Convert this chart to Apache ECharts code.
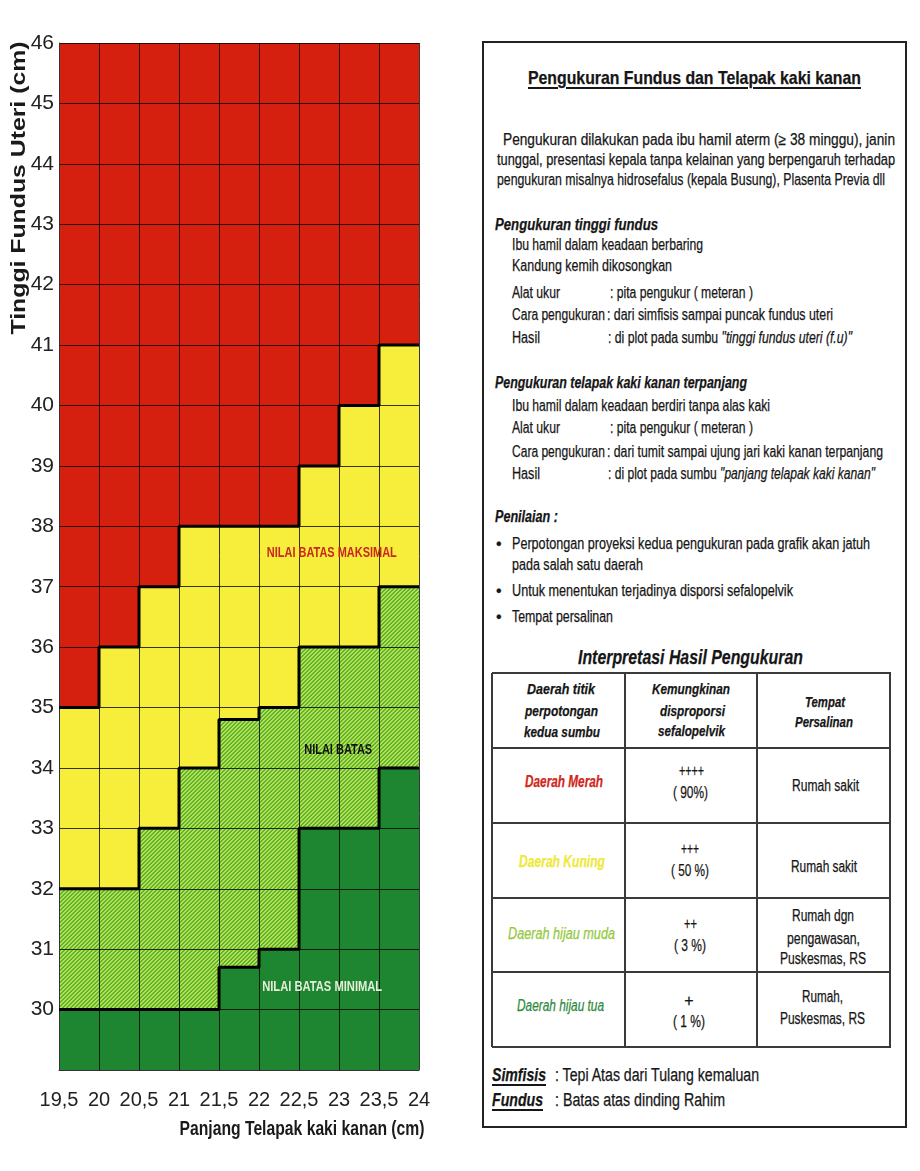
<!DOCTYPE html>
<html><head><meta charset="utf-8">
<script src="https://cdn.jsdelivr.net/npm/echarts@6/dist/echarts.min.js"></script>
<style>
html,body{margin:0;padding:0;background:#fff;}
#wrap{position:relative;width:920px;height:1171px;overflow:hidden;background:#fff;}
#chart{position:absolute;left:0;top:0;width:460px;height:1171px;}
#panel{position:absolute;left:482px;top:41px;width:421px;height:1083px;border:2px solid #222;}
.ln{position:absolute;white-space:nowrap;font-family:"Liberation Sans Narrow","Liberation Sans",Arial,sans-serif;color:#161616;line-height:1.2;transform-origin:0 50%;-webkit-text-stroke:0.25px currentColor;}
.hl{position:absolute;background:#3a3a3a;}
</style></head>
<body><div id="wrap"><div id="chart"></div><div id="panel"></div></div>
<script>
// ---------------- chart data ----------------
const xTickLabels = ['19,5','20','20,5','21','21,5','22','22,5','23','23,5','24'];
const colStarts = [19.5, 20, 20.5, 21, 21.5, 22, 22.5, 23, 23.5];
const colWidth = 0.5;
const redLower = [35, 36, 37, 38, 38, 38, 39, 40, 41];          // red zone: above this
const yellowLower = [32, 32, 33, 34, 34.8, 35, 36, 36, 37];     // yellow zone: yellowLower..redLower
const lightGreenLower = [30, 30, 30, 30, 30.7, 31, 33, 33, 34]; // light green: lightGreenLower..yellowLower
const yMin = 29, yMax = 46;
const noteTexts = ['NILAI BATAS MAKSIMAL', 'NILAI BATAS', 'NILAI BATAS MINIMAL'];
const noteX = [22.91, 22.99, 22.79];
const noteY = [37.56, 34.3, 30.37];
const yTitle = 'Tinggi Fundus Uteri (cm)';
const xTitle = 'Panjang Telapak kaki kanan (cm)';

// ---------------- styles ----------------
const SANS = '"Liberation Sans", Arial, sans-serif';
const pc = document.createElement('canvas'); pc.width = 4; pc.height = 4;
(function(){ const g = pc.getContext('2d'); g.fillStyle = '#5fb42d'; g.fillRect(0,0,4,4);
  g.fillStyle = '#b5df54'; for (let i=0;i<4;i++){ g.fillRect(i,(3-i),1,1); g.fillRect(i,(4-i)%4,1,1);} })();
const zoneFill = ['#d5200f', '#f7ee3b', {image: pc, repeat: 'repeat'}, '#1e8530'];
const noteColor = ['#c8281e', '#111111', '#e4eed8'];
const noteWidth = [130, 68, 120];
const noteFont = 'bold 15px ' + SANS;

function textW(t, font){ const c = document.createElement('canvas').getContext('2d'); c.font = font; return c.measureText(t).width; }

const cells = [];
colStarts.forEach((x, i) => {
  const x1 = x + colWidth;
  cells.push([x, x1, redLower[i], yMax, 0]);
  cells.push([x, x1, yellowLower[i], redLower[i], 1]);
  cells.push([x, x1, lightGreenLower[i], yellowLower[i], 2]);
  cells.push([x, x1, yMin, lightGreenLower[i], 3]);
});
function stepData(arr){ return colStarts.map((x,i)=>[x, arr[i]]).concat([[colStarts[colStarts.length-1]+colWidth, arr[arr.length-1]]]); }
function boundary(arr){ return {type:'line', step:'end', data: stepData(arr), symbol:'none', z:10, silent:true,
  lineStyle:{color:'#000', width:3}}; }

const chart = echarts.init(document.getElementById('chart'), null, {renderer:'canvas'});
const yFont = 'bold 21px ' + SANS;
const xFont = 'bold 21px ' + SANS;
chart.setOption({
  animation: false,
  grid: {left: 59, top: 43, width: 360, bottom: 101},
  xAxis: {type:'value', min: 19.5, max: 24, interval: 0.5, z: 5,
    axisLine:{show:true, onZero:false, lineStyle:{color:'#333', width:1}}, axisTick:{show:false},
    splitLine:{show:true, lineStyle:{color:'rgba(0,0,0,0.78)', width:1}},
    axisLabel:{margin: 20, fontSize: 20, fontFamily: SANS, color:'#222',
      formatter: v => xTickLabels[Math.round((v - 19.5) / 0.5)]}},
  yAxis: {type:'value', min: yMin, max: yMax, interval: 1, z: 5,
    axisLine:{show:true, onZero:false, lineStyle:{color:'#333', width:1}}, axisTick:{show:false},
    splitLine:{show:true, lineStyle:{color:'rgba(0,0,0,0.78)', width:1}},
    axisLabel:{margin: 5, fontSize: 21, fontFamily: SANS, color:'#222', showMinLabel:false}},
  series: [
    {type:'custom', z:2, silent:true, data: cells, encode:{x:[0,1], y:[2,3]},
      renderItem: (params, api) => {
        const p0 = api.coord([api.value(0), api.value(3)]);
        const p1 = api.coord([api.value(1), api.value(2)]);
        return {type:'rect', shape:{x:p0[0], y:p0[1], width:p1[0]-p0[0], height:p1[1]-p0[1]},
          style:{fill: zoneFill[api.value(4)]}};
      }},
    boundary(redLower), boundary(yellowLower), boundary(lightGreenLower),
    {type:'custom', z:12, silent:true, data: noteTexts.map((t,i)=>[noteX[i], noteY[i], i]),
      encode:{x:0, y:1},
      renderItem: (params, api) => {
        const i = api.value(2);
        const p = api.coord([api.value(0), api.value(1)]);
        return {type:'text', x:p[0], y:p[1], scaleX: noteWidth[i] / textW(noteTexts[i], noteFont),
          style:{text: noteTexts[i], font: noteFont, fill: noteColor[i], align:'center', verticalAlign:'middle'}};
      }}
  ],
  graphic: [
    {type:'text', x: 19.5, y: 188, rotation: Math.PI/2, scaleX: 293 / textW(yTitle, yFont), z: 20,
      style:{text: yTitle, font: yFont, fill:'#1a1a1a', align:'center', verticalAlign:'middle'}},
    {type:'text', x: 302, y: 1129, scaleX: 245 / textW(xTitle, xFont), z: 20,
      style:{text: xTitle, font: xFont, fill:'#1a1a1a', align:'center', verticalAlign:'middle'}}
  ]
});

// ---------------- right panel (text) ----------------
const wrap = document.getElementById('wrap');
const ST = {
  n:   {fs:16, w:'normal', s:'normal'},
  bi:  {fs:16, w:'bold', s:'italic'},
  ttl: {fs:19, w:'bold', s:'normal', u:true},
  it2: {fs:21, w:'bold', s:'italic'},
  th:  {fs:15, w:'bold', s:'italic'},
  tl:  {fs:16, w:'bold', s:'italic'},
  ti:  {fs:16, w:'normal', s:'italic'},
  ft:  {fs:18, w:'normal', s:'normal'},
  ftb: {fs:18, w:'bold', s:'italic', u:true}
};
const lines = [];
function L(html, x, cy, w, st, center, color){ lines.push({html, x, cy, w, st, center, color}); }
L('Pengukuran Fundus dan Telapak kaki kanan', 694, 80, 333, 'ttl', true);
L('Pengukuran dilakukan pada ibu hamil aterm (&ge; 38 minggu), janin', 503, 141, 392, 'n');
L('tunggal, presentasi kepala tanpa kelainan yang berpengaruh terhadap', 497, 161, 398, 'n');
L('pengukuran misalnya hidrosefalus (kepala Busung), Plasenta Previa dll', 497, 181, 388, 'n');
L('Pengukuran tinggi fundus', 495, 226, 163, 'bi');
L('Ibu hamil dalam keadaan berbaring', 512, 246, 191, 'n');
L('Kandung kemih dikosongkan', 512, 267, 160, 'n');
L('Alat ukur', 512, 294, 48, 'n');
L(': pita pengukur ( meteran )', 610, 294, 143, 'n');
L('Cara pengukuran', 512, 316, 93, 'n');
L(': dari simfisis sampai puncak fundus uteri', 607, 316, 226, 'n');
L('Hasil', 512, 339, 28, 'n');
L(': di plot pada sumbu <i>&quot;tinggi fundus uteri (f.u)&quot;</i>', 608, 339, 244, 'n');
L('Pengukuran telapak kaki kanan terpanjang', 495, 384, 252, 'bi');
L('Ibu hamil dalam keadaan berdiri tanpa alas kaki', 512, 407, 258, 'n');
L('Alat ukur', 512, 429, 48, 'n');
L(': pita pengukur ( meteran )', 610, 429, 143, 'n');
L('Cara pengukuran', 512, 453, 93, 'n');
L(': dari tumit sampai ujung jari kaki kanan terpanjang', 607, 453, 276, 'n');
L('Hasil', 512, 475, 28, 'n');
L(': di plot pada sumbu <i>&quot;panjang telapak kaki kanan&quot;</i>', 608, 475, 267, 'n');
L('Penilaian :', 495, 518, 63, 'bi');
L('&bull;', 496, 545, 0, 'n');
L('Perpotongan proyeksi kedua pengukuran pada grafik akan jatuh', 512, 545, 358, 'n');
L('pada salah satu daerah', 512, 566, 131, 'n');
L('&bull;', 496, 592, 0, 'n');
L('Untuk menentukan terjadinya disporsi sefalopelvik', 512, 592, 281, 'n');
L('&bull;', 496, 618, 0, 'n');
L('Tempat persalinan', 512, 618, 101, 'n');
L('Interpretasi Hasil Pengukuran', 690, 658, 225, 'it2', true);
L('Daerah titik', 561, 690, 68, 'th', true);
L('perpotongan', 561, 712, 73, 'th', true);
L('kedua sumbu', 562, 733, 76, 'th', true);
L('Kemungkinan', 691, 690, 78, 'th', true);
L('disproporsi', 692, 712, 65, 'th', true);
L('sefalopelvik', 691, 732, 67, 'th', true);
L('Tempat', 825, 703, 40, 'th', true);
L('Persalinan', 824, 723, 58, 'th', true);
L('Daerah Merah', 564, 783, 78, 'tl', true, '#d0281c');
L('++++', 691, 772, 25, 'n', true);
L('( 90%)', 690, 794, 35, 'n', true);
L('Rumah sakit', 825, 787, 67, 'n', true);
L('Daerah Kuning', 562, 863, 86, 'tl', true, '#efe93a');
L('+++', 690, 850, 18, 'n', true);
L('( 50 %)', 690, 872, 38, 'n', true);
L('Rumah sakit', 824, 868, 66, 'n', true);
L('Daerah hijau muda', 561, 935, 107, 'ti', true, '#94c93c');
L('++', 690, 925, 13, 'n', true);
L('( 3 %)', 690, 947, 32, 'n', true);
L('Rumah dgn', 823, 917, 62, 'n', true);
L('pengawasan,', 823, 940, 73, 'n', true);
L('Puskesmas, RS', 823, 960, 86, 'n', true);
L('Daerah hijau tua', 560, 1007, 87, 'ti', true, '#2f8a3c');
L('+', 689, 1002, 0, 'n', true);
L('( 1 %)', 689, 1023, 32, 'n', true);
L('Rumah,', 822, 998, 41, 'n', true);
L('Puskesmas, RS', 822, 1020, 85, 'n', true);
L('Simfisis', 492, 1077, 54, 'ftb');
L(': Tepi Atas dari Tulang kemaluan', 555, 1077, 204, 'ft');
L('Fundus', 492, 1102, 51, 'ftb');
L(': Batas atas dinding Rahim', 555, 1102, 170, 'ft');

const els = lines.map(o => {
  const st = ST[o.st];
  const d = document.createElement('div');
  d.className = 'ln';
  d.innerHTML = o.html;
  d.style.fontSize = st.fs + 'px';
  d.style.fontWeight = st.w;
  d.style.fontStyle = st.s;
  if (st.u) { d.style.textDecoration = 'underline'; d.style.textUnderlineOffset = '3px'; d.style.textDecorationThickness = '2px'; }
  if (o.color) d.style.color = o.color;
  d.style.top = (o.cy - 0.69 * st.fs) + 'px';
  d.style.left = o.x + 'px';
  wrap.appendChild(d);
  return [d, o];
});
function fit(){
  els.forEach(([d, o]) => {
    d.style.transform = 'none';
    const nat = d.getBoundingClientRect().width;
    const w = o.w > 0 ? o.w : nat;
    d.style.left = (o.center ? o.x - w / 2 : o.x) + 'px';
    if (o.w > 0 && nat > 0) d.style.transform = 'scaleX(' + (w / nat) + ')';
  });
}
fit();
if (document.fonts && document.fonts.ready) document.fonts.ready.then(fit);

// table rules
const tRows = [673, 748, 823, 898, 972, 1047], tCols = [492, 625, 757, 890];
tRows.forEach(y => { const h = document.createElement('div'); h.className = 'hl';
  Object.assign(h.style, {left: tCols[0] + 'px', top: (y - 1) + 'px', width: (tCols[3] - tCols[0] + 1) + 'px', height: '2px'}); wrap.appendChild(h); });
tCols.forEach(x => { const v = document.createElement('div'); v.className = 'hl';
  Object.assign(v.style, {left: (x - 1) + 'px', top: tRows[0] + 'px', width: '2px', height: (tRows[5] - tRows[0]) + 'px'}); wrap.appendChild(v); });
</script></body></html>
